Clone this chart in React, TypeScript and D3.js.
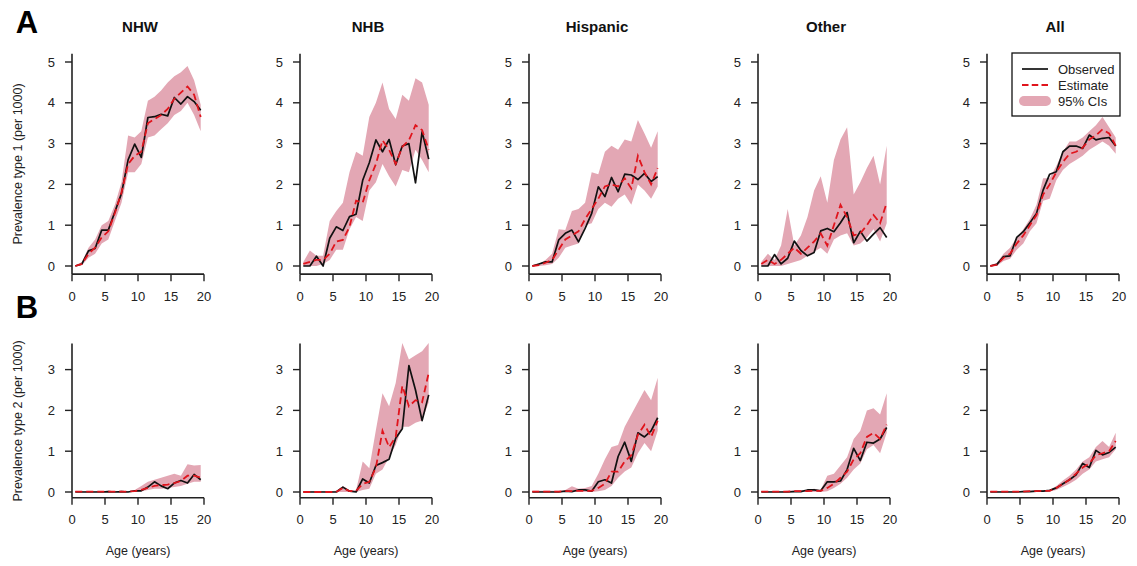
import React from "react";
import * as d3 from "d3";

// ages (midpoints of single-year age groups)
const ages = [0.5, 1.5, 2.5, 3.5, 4.5, 5.5, 6.5, 7.5, 8.5, 9.5, 10.5, 11.5, 12.5, 13.5, 14.5, 15.5, 16.5, 17.5, 18.5, 19.5];

const groups = ["NHW", "NHB", "Hispanic", "Other", "All"];
const xTicks = [0, 5, 10, 15, 20];
const yTicksT1 = [0, 1, 2, 3, 4, 5];
const yTicksT2 = [0, 1, 2, 3];

// ---- type 1 ----
const nhwT1Obs = [0, 0.05, 0.37, 0.43, 0.88, 0.88, 1.33, 1.78, 2.6, 2.99, 2.66, 3.64, 3.66, 3.72, 3.68, 4.13, 3.97, 4.15, 4.03, 3.82];
const nhwT1Est = [0, 0.05, 0.3, 0.45, 0.7, 0.85, 1.3, 1.8, 2.5, 2.7, 2.8, 3.5, 3.6, 3.7, 3.85, 4.1, 4.25, 4.4, 4.2, 3.65];
const nhwT1Lo = [0, 0.02, 0.2, 0.3, 0.55, 0.65, 1.1, 1.55, 2.3, 2.3, 2.5, 3.15, 3.2, 3.35, 3.5, 3.7, 3.8, 4.0, 3.7, 3.3];
const nhwT1Hi = [0.02, 0.1, 0.45, 0.65, 1.0, 1.1, 1.5, 2.05, 3.2, 3.15, 3.3, 4.05, 4.15, 4.3, 4.5, 4.65, 4.75, 4.9, 4.55, 3.95];

const nhbT1Obs = [0, 0, 0.24, 0, 0.68, 0.96, 0.87, 1.21, 1.27, 2.1, 2.53, 3.09, 2.8, 3.1, 2.48, 2.94, 3.0, 2.04, 3.29, 2.62];
const nhbT1Est = [0.05, 0.1, 0.15, 0.15, 0.3, 0.6, 0.64, 0.96, 1.6, 1.55, 2.1, 2.5, 3.08, 2.85, 2.5, 2.92, 3.08, 3.45, 3.33, 2.85];
const nhbT1Lo = [0, 0, 0, 0.05, 0.15, 0.4, 0.4, 0.9, 1.2, 1.1, 1.85, 2.05, 2.5, 2.2, 1.95, 2.35, 2.3, 2.85, 2.6, 2.3];
const nhbT1Hi = [0.1, 0.38, 0.25, 0.25, 1.1, 1.35, 1.55, 2.3, 2.8, 2.7, 3.65, 4.0, 4.5, 3.85, 3.6, 4.2, 4.05, 4.6, 4.5, 3.95];

const hisT1Obs = [0, 0.05, 0.1, 0.1, 0.64, 0.8, 0.88, 0.59, 0.92, 1.29, 1.94, 1.7, 2.17, 1.82, 2.25, 2.23, 2.12, 2.27, 2.07, 2.19];
const hisT1Est = [0, 0.02, 0.08, 0.15, 0.4, 0.65, 0.75, 0.85, 1.15, 1.4, 1.65, 1.95, 2.0, 1.95, 2.15, 1.9, 2.7, 2.3, 2.0, 2.4];
const hisT1Lo = [0, 0, 0.02, 0.05, 0.2, 0.45, 0.5, 0.55, 1.0, 1.05, 1.4, 1.55, 1.45, 1.65, 1.75, 1.5, 2.0, 1.85, 1.65, 1.95];
const hisT1Hi = [0.02, 0.05, 0.15, 0.3, 0.9, 0.88, 1.35, 1.4, 1.55, 2.3, 2.25, 2.8, 2.95, 2.85, 3.1, 3.05, 3.58, 3.25, 2.9, 3.3];

const othT1Obs = [0, 0, 0.28, 0.05, 0.19, 0.61, 0.38, 0.25, 0.33, 0.86, 0.92, 0.84, 1.06, 1.31, 0.57, 0.85, 0.61, 0.78, 0.94, 0.7];
const othT1Est = [0.05, 0.15, 0.05, 0.15, 0.3, 0.45, 0.3, 0.45, 0.6, 0.8, 0.5, 1.0, 1.5, 1.2, 0.75, 0.8, 1.0, 1.25, 1.05, 1.55];
const othT1Lo = [0, 0, 0, 0, 0.05, 0.1, 0.15, 0.25, 0.35, 0.45, 0.3, 0.65, 0.75, 0.8, 0.5, 0.55, 0.7, 0.9, 0.6, 1.05];
const othT1Hi = [0.1, 0.3, 0.15, 0.5, 1.4, 0.5, 0.75, 1.2, 1.85, 2.2, 1.55, 2.6, 3.1, 3.4, 1.75, 2.05, 2.4, 2.7, 2.0, 2.95];

const allT1Obs = [0, 0.04, 0.23, 0.25, 0.7, 0.84, 1.06, 1.29, 1.86, 2.25, 2.31, 2.8, 2.94, 2.94, 2.88, 3.21, 3.09, 3.13, 3.15, 2.94];
const allT1Est = [0, 0.03, 0.2, 0.3, 0.55, 0.75, 1.0, 1.25, 1.75, 2.0, 2.3, 2.55, 2.75, 2.8, 2.9, 3.1, 3.2, 3.35, 3.25, 2.95];
const allT1Lo = [0, 0, 0.12, 0.18, 0.4, 0.55, 0.85, 1.05, 1.6, 1.65, 2.1, 2.35, 2.5, 2.6, 2.7, 2.85, 2.95, 3.05, 2.95, 2.75];
const allT1Hi = [0.02, 0.08, 0.3, 0.45, 0.7, 0.9, 1.15, 1.5, 2.15, 2.15, 2.45, 2.8, 3.05, 3.05, 3.15, 3.3, 3.45, 3.65, 3.4, 3.15];

// ---- type 2 ----
const nhwT2Obs = [0, 0, 0, 0, 0, 0.01, 0, 0.01, 0, 0.03, 0.03, 0.12, 0.25, 0.15, 0.08, 0.22, 0.28, 0.22, 0.43, 0.3];
const nhwT2Est = [0.01, 0.01, 0.01, 0.01, 0.01, 0.01, 0.01, 0.01, 0.01, 0.02, 0.05, 0.1, 0.15, 0.17, 0.18, 0.22, 0.27, 0.4, 0.4, 0.35];
const nhwT2Lo = [0, 0, 0, 0, 0, 0, 0, 0, 0, 0, 0.02, 0.05, 0.08, 0.08, 0.1, 0.12, 0.15, 0.2, 0.25, 0.25];
const nhwT2Hi = [0.02, 0.02, 0.02, 0.02, 0.02, 0.03, 0.02, 0.03, 0.02, 0.05, 0.15, 0.25, 0.3, 0.35, 0.4, 0.45, 0.4, 0.68, 0.65, 0.66];

const nhbT2Obs = [0, 0, 0, 0, 0, 0, 0.12, 0.02, 0, 0.32, 0.22, 0.65, 0.72, 0.8, 1.32, 1.55, 3.1, 2.5, 1.75, 2.38];
const nhbT2Est = [0, 0, 0, 0, 0, 0, 0.1, 0.02, 0.03, 0.2, 0.25, 0.6, 1.5, 1.1, 1.35, 2.6, 2.1, 2.25, 2.2, 2.92];
const nhbT2Lo = [0, 0, 0, 0, 0, 0, 0, 0, 0, 0.05, 0.08, 0.45, 0.55, 0.85, 1.15, 1.6, 1.6, 1.7, 1.75, 2.2];
const nhbT2Hi = [0.02, 0.02, 0.02, 0.02, 0.02, 0.03, 0.15, 0.05, 0.05, 0.75, 0.58, 1.52, 2.42, 2.1, 2.67, 3.65, 3.25, 3.35, 3.45, 3.65];

const hisT2Obs = [0, 0, 0, 0, 0, 0.02, 0.01, 0.05, 0.05, 0.02, 0.25, 0.3, 0.22, 0.87, 1.22, 0.75, 1.45, 1.35, 1.5, 1.82];
const hisT2Est = [0.01, 0.01, 0.01, 0.01, 0.01, 0.02, 0.02, 0.03, 0.03, 0.03, 0.1, 0.2, 0.5, 0.5, 0.75, 0.9, 1.4, 1.65, 1.35, 1.75];
const hisT2Lo = [0, 0, 0, 0, 0, 0, 0, 0, 0, 0, 0.02, 0.05, 0.15, 0.35, 0.5, 0.6, 0.95, 1.2, 1.0, 1.5];
const hisT2Hi = [0.03, 0.03, 0.03, 0.03, 0.03, 0.05, 0.14, 0.08, 0.1, 0.15, 0.45, 0.8, 1.1, 1.15, 1.6, 1.9, 2.2, 2.5, 2.25, 2.8];

const othT2Obs = [0, 0, 0, 0, 0, 0.01, 0.01, 0.05, 0.05, 0.03, 0.25, 0.25, 0.27, 0.55, 1.07, 0.77, 1.22, 1.2, 1.3, 1.58];
const othT2Est = [0.01, 0.01, 0.01, 0.01, 0.01, 0.02, 0.02, 0.02, 0.03, 0.03, 0.1, 0.2, 0.35, 0.5, 0.8, 0.95, 1.35, 1.45, 1.3, 1.65];
const othT2Lo = [0, 0, 0, 0, 0, 0, 0, 0, 0, 0, 0.02, 0.1, 0.2, 0.35, 0.55, 0.7, 1.05, 1.15, 0.95, 1.45];
const othT2Hi = [0.02, 0.02, 0.02, 0.02, 0.03, 0.04, 0.05, 0.05, 0.08, 0.05, 0.4, 0.45, 0.65, 0.85, 1.3, 1.5, 2.0, 2.05, 1.9, 2.42];

const allT2Obs = [0, 0, 0, 0, 0, 0.01, 0.01, 0.02, 0.02, 0.04, 0.1, 0.2, 0.3, 0.42, 0.7, 0.6, 1.02, 0.91, 0.97, 1.1];
const allT2Est = [0.01, 0.01, 0.01, 0.01, 0.01, 0.01, 0.02, 0.02, 0.03, 0.03, 0.1, 0.2, 0.3, 0.45, 0.6, 0.7, 0.9, 0.95, 1.0, 1.25];
const allT2Lo = [0, 0, 0, 0, 0, 0, 0, 0, 0.01, 0.01, 0.05, 0.12, 0.2, 0.3, 0.45, 0.55, 0.75, 0.8, 0.85, 1.05];
const allT2Hi = [0.02, 0.02, 0.02, 0.02, 0.02, 0.03, 0.03, 0.04, 0.04, 0.05, 0.15, 0.28, 0.4, 0.55, 0.75, 0.85, 1.1, 1.25, 1.1, 1.45];

const type1 = [
  [nhwT1Obs, nhwT1Est, nhwT1Lo, nhwT1Hi],
  [nhbT1Obs, nhbT1Est, nhbT1Lo, nhbT1Hi],
  [hisT1Obs, hisT1Est, hisT1Lo, hisT1Hi],
  [othT1Obs, othT1Est, othT1Lo, othT1Hi],
  [allT1Obs, allT1Est, allT1Lo, allT1Hi],
];
const type2 = [
  [nhwT2Obs, nhwT2Est, nhwT2Lo, nhwT2Hi],
  [nhbT2Obs, nhbT2Est, nhbT2Lo, nhbT2Hi],
  [hisT2Obs, hisT2Est, hisT2Lo, hisT2Hi],
  [othT2Obs, othT2Est, othT2Lo, othT2Hi],
  [allT2Obs, allT2Est, allT2Lo, allT2Hi],
];

const BAND = "#e3a7b4";
const RED = "#e0141c";
const FONT = "'Liberation Sans', Arial, sans-serif";

const panelLefts = [72, 300, 529, 758, 987];
const panelW = 132;
const unitPx = 40.8;

function Panel({ left, y0, ymax, yTicks, series }) {
  const x = d3.scaleLinear().domain([0, 20]).range([left, left + panelW]);
  const y = d3.scaleLinear().domain([0, 1]).range([y0, y0 - unitPx]);
  const pad = ymax * 0.04;
  const [obs, est, lo, hi] = series;
  const area = d3.area<number>()
    .x((d, i) => x(ages[i]))
    .y0((d, i) => y(lo[i]))
    .y1((d, i) => y(hi[i]));
  const line = d3.line<number>()
    .x((d, i) => x(ages[i]))
    .y((d) => y(d));
  const yBottom = y(-pad);
  return (
    <g>
      <path d={area(ages) || ""} fill={BAND} stroke="none" />
      <path d={line(obs) || ""} fill="none" stroke="#111" strokeWidth={1.7} strokeLinejoin="round" />
      <path d={line(est) || ""} fill="none" stroke={RED} strokeWidth={1.8} strokeDasharray="7,4" />
      {/* axes */}
      <line x1={x(0)} x2={x(0)} y1={y(ymax + pad)} y2={yBottom} stroke="#222" strokeWidth={1.6} />
      <line x1={x(0)} x2={x(20)} y1={yBottom} y2={yBottom} stroke="#222" strokeWidth={1.6} />
      {yTicks.map((t) => (
        <g key={"y" + t}>
          <line x1={x(0) - 7} x2={x(0)} y1={y(t)} y2={y(t)} stroke="#222" strokeWidth={1.4} />
          <text x={x(0) - 17} y={y(t)} dy="0.35em" textAnchor="end" fontSize={13} fill="#222">{t}</text>
        </g>
      ))}
      {xTicks.map((t) => (
        <g key={"x" + t}>
          <line x1={x(t)} x2={x(t)} y1={yBottom} y2={yBottom + 7} stroke="#222" strokeWidth={1.4} />
          <text x={x(t)} y={yBottom + 22} dy="0.35em" textAnchor="middle" fontSize={13} fill="#222">{t}</text>
        </g>
      ))}
    </g>
  );
}

export default function App() {
  return (
    <svg width={1137} height={566} style={{ display: "block", position: "absolute", left: 0, top: 0, background: "#fff" }} fontFamily={FONT}>
      <rect width={1137} height={566} fill="#fff" />
      <text x={27} y={22} dy="0.35em" textAnchor="middle" fontSize={31} fontWeight="bold">A</text>
      <text x={27} y={307} dy="0.35em" textAnchor="middle" fontSize={31} fontWeight="bold">B</text>
      {groups.map((g, i) => (
        <text key={g} x={panelLefts[i] + 68} y={27} dy="0.35em" textAnchor="middle" fontSize={15} fontWeight="bold" fill="#111">{g}</text>
      ))}
      <text transform="translate(18,164) rotate(-90)" textAnchor="middle" dy="0.35em" fontSize={12.5} fill="#222">Prevalence type 1 (per 1000)</text>
      <text transform="translate(18,421) rotate(-90)" textAnchor="middle" dy="0.35em" fontSize={12.5} fill="#222">Prevalence type 2 (per 1000)</text>
      {groups.map((g, i) => (
        <Panel key={"t1" + g} left={panelLefts[i]} y0={266} ymax={5} yTicks={yTicksT1} series={type1[i]} />
      ))}
      {groups.map((g, i) => (
        <Panel key={"t2" + g} left={panelLefts[i]} y0={492} ymax={3.5} yTicks={yTicksT2} series={type2[i]} />
      ))}
      {groups.map((g, i) => (
        <text key={"xl" + g} x={panelLefts[i] + 66} y={551} dy="0.35em" textAnchor="middle" fontSize={12.5} fill="#222">Age (years)</text>
      ))}
      {/* legend */}
      <g>
        <rect x={1012} y={53} width={108} height={63} fill="#fff" stroke="#111" strokeWidth={1.3} />
        <line x1={1022} x2={1048} y1={69} y2={69} stroke="#111" strokeWidth={1.7} />
        <line x1={1022} x2={1048} y1={85} y2={85} stroke={RED} strokeWidth={1.8} strokeDasharray="6.5,3.25" />
        <line x1={1024} x2={1046} y1={101} y2={101} stroke={BAND} strokeWidth={10} strokeLinecap="round" />
        <text x={1058} y={69} dy="0.35em" fontSize={13} fill="#222">Observed</text>
        <text x={1058} y={85} dy="0.35em" fontSize={13} fill="#222">Estimate</text>
        <text x={1058} y={101} dy="0.35em" fontSize={13} fill="#222">95% CIs</text>
      </g>
    </svg>
  );
}
